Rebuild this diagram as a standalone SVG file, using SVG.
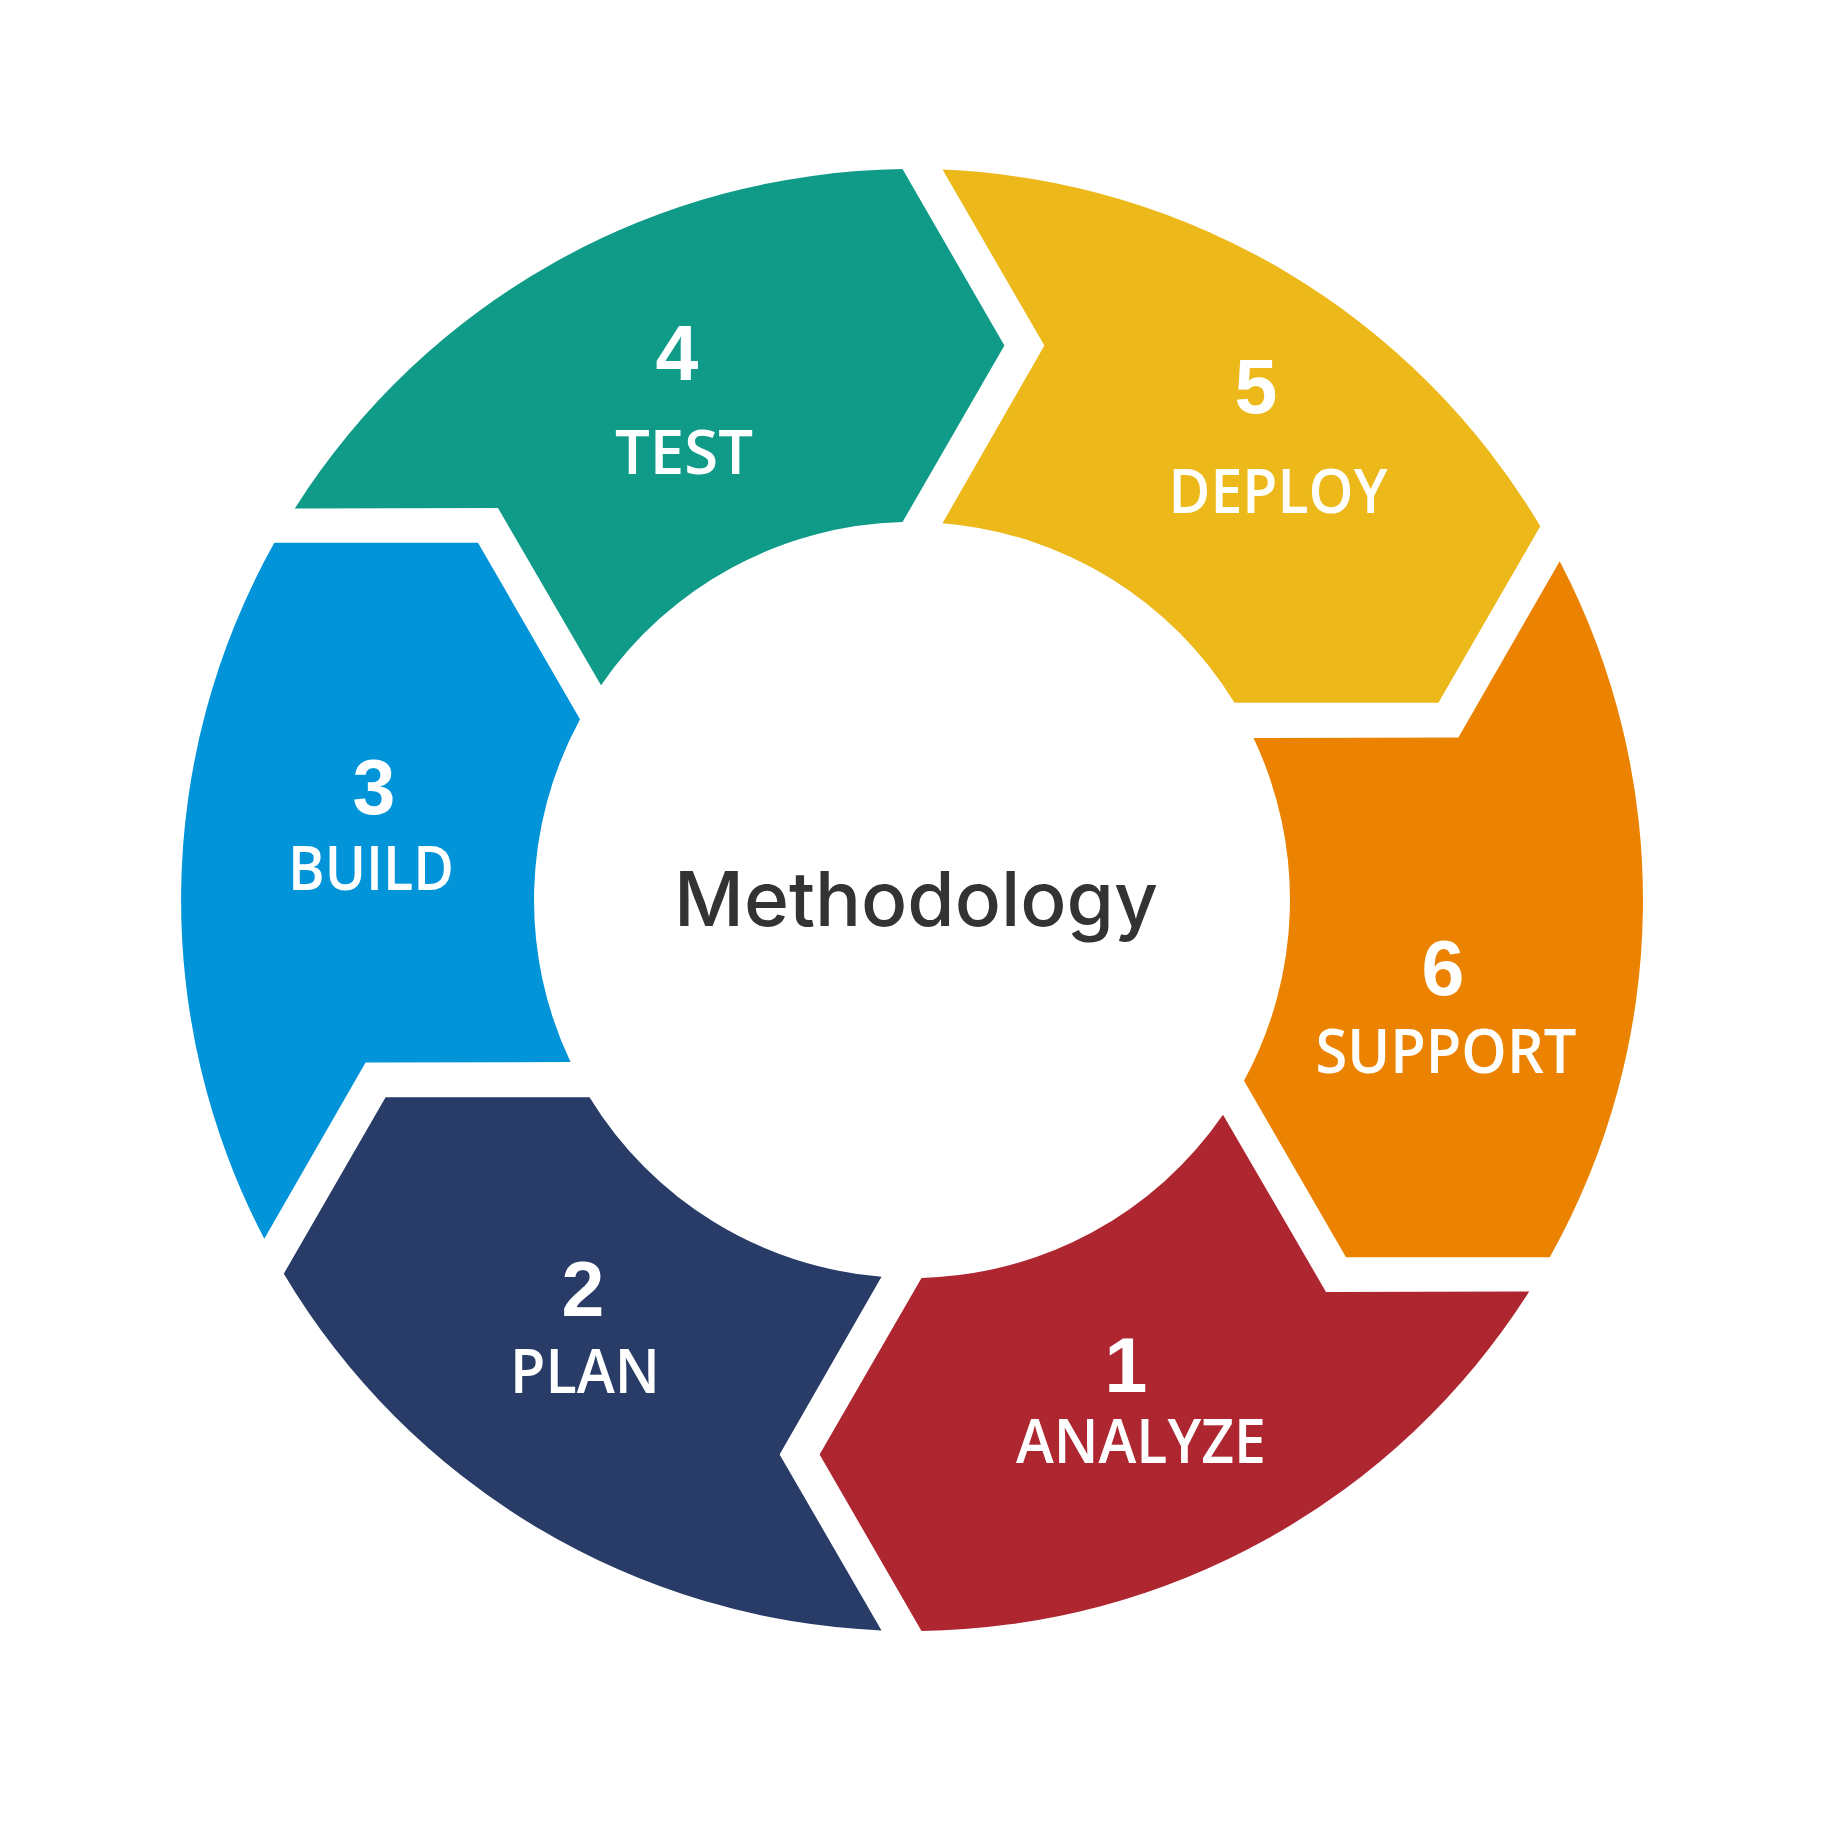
<svg xmlns="http://www.w3.org/2000/svg" width="1833" height="1833" viewBox="0 0 1833 1833">
<style>
.num{font-family:"Liberation Sans",Arial,sans-serif;font-weight:700;font-size:77px;fill:#ffffff;text-anchor:middle}
.lbl{font-family:"Open Sans","Liberation Sans",Arial,sans-serif;font-weight:600;font-size:61px;fill:#ffffff;text-anchor:middle}
.title{font-family:Inter,"Open Sans","Liberation Sans",Arial,sans-serif;font-weight:500;font-size:76px;fill:#333333;text-anchor:middle}
</style>
<rect x="0" y="0" width="1833" height="1833" fill="#ffffff"/>
<g id="step5-deploy">
<path fill="#ECB81A" d="M 942.5 169.6 A 731 731 0 0 1 1540.3 526.3 L 1438.4 702.8 L 1234.5 702.8 A 378 378 0 0 0 942.5 523.2 L 1044.4 345.5 Z"/>
<text class="num" x="1256" y="413">5</text>
<text class="lbl" x="1278" y="513" textLength="219" lengthAdjust="spacingAndGlyphs">DEPLOY</text>
</g>
<g id="step6-support">
<path fill="#EC8300" d="M 1559.7 561.2 A 731 731 0 0 1 1549.8 1257.2 L 1346.0 1257.3 L 1244.0 1080.7 A 378 378 0 0 0 1253.5 738.0 L 1458.4 737.4 Z"/>
<text class="num" x="1443" y="995">6</text>
<text class="lbl" x="1446" y="1073" textLength="261" lengthAdjust="spacingAndGlyphs">SUPPORT</text>
</g>
<g id="step1-analyze">
<path fill="#AE2630" d="M 1529.2 1291.6 A 731 731 0 0 1 921.5 1630.9 L 819.6 1454.5 L 921.5 1277.9 A 378 378 0 0 0 1223.0 1114.8 L 1326.0 1291.9 Z"/>
<text class="num" x="1126" y="1392">1</text>
<text class="lbl" x="1141" y="1463" textLength="250" lengthAdjust="spacingAndGlyphs">ANALYZE</text>
</g>
<g id="step2-plan">
<path fill="#283C67" d="M 881.5 1630.4 A 731 731 0 0 1 283.8 1273.7 L 385.6 1097.2 L 589.5 1097.2 A 378 378 0 0 0 881.5 1276.8 L 779.6 1454.5 Z"/>
<text class="num" x="583" y="1316">2</text>
<text class="lbl" x="585" y="1393" textLength="150" lengthAdjust="spacingAndGlyphs">PLAN</text>
</g>
<g id="step3-build">
<path fill="#0194D9" d="M 264.3 1238.8 A 731 731 0 0 1 274.3 542.8 L 478.0 542.7 L 580.0 719.3 A 378 378 0 0 0 570.5 1062.0 L 365.6 1062.6 Z"/>
<text class="num" x="374" y="814">3</text>
<text class="lbl" x="371" y="890" textLength="166" lengthAdjust="spacingAndGlyphs">BUILD</text>
</g>
<g id="step4-test">
<path fill="#0F9B87" d="M 294.8 508.4 A 731 731 0 0 1 902.5 169.1 L 1004.4 345.5 L 902.5 522.1 A 378 378 0 0 0 601.0 685.2 L 498.0 508.1 Z"/>
<text class="num" x="677" y="380">4</text>
<text class="lbl" x="684" y="474" textLength="138" lengthAdjust="spacingAndGlyphs">TEST</text>
</g>
<g id="center">
<text class="title" x="916" y="926" textLength="484" lengthAdjust="spacingAndGlyphs">Methodology</text>
</g>
<g id="connectors"></g>
</svg>
